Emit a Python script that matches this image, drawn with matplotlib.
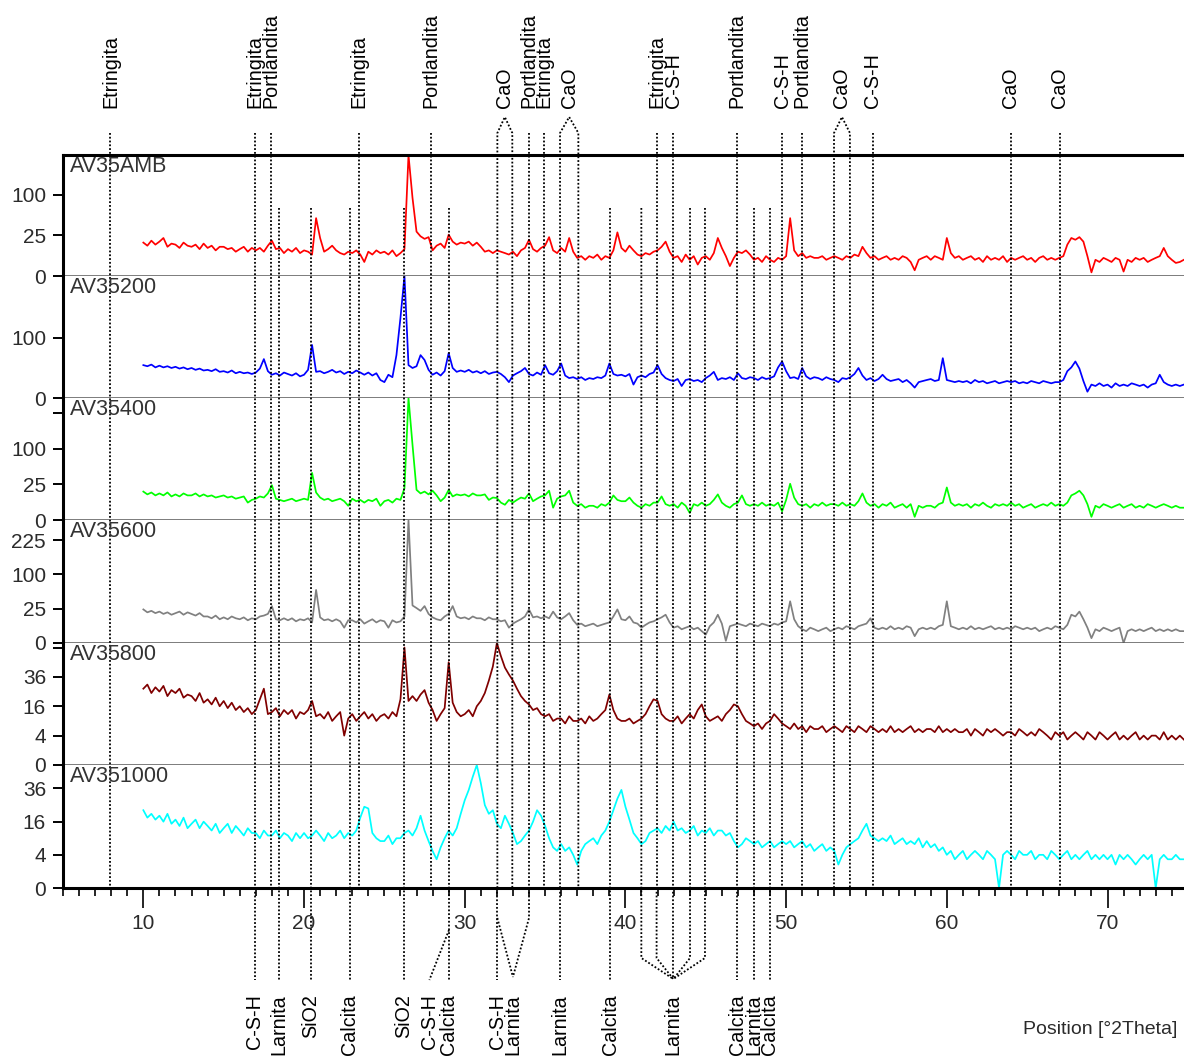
import numpy as np
import matplotlib
matplotlib.use("Agg")
import matplotlib.pyplot as plt
from matplotlib.ticker import MultipleLocator

plt.rcParams['font.family'] = ['Liberation Sans', 'DejaVu Sans']

# ---------------------------------------------------------------- data
two_theta = np.arange(10.0, 75.0, 0.25)  # 10.00 ... 74.75 deg 2theta

av35amb = [
    17, 14, 19, 15,  18, 22, 13, 16,  15, 12, 17, 14,  13, 15, 11, 16,   # 10-13
    12, 14, 10, 13,  13, 11, 12, 9,   11, 13, 9, 12,   10, 12, 9, 14,    # 14-17
    19, 11, 12, 8,   11, 9, 12, 8,    10, 9, 7, 51,    22, 9, 11, 14,    # 18-21
    10, 8, 7, 9,     8, 10, 7, 3,     9, 7, 10, 8,     9, 7, 10, 6,      # 22-25
    8, 11, 223, 93,  30, 24, 21, 23,  10, 14, 16, 12,  26, 18, 15, 17,   # 26-29
    16, 18, 14, 17,  13, 9, 10, 8,    10, 9, 8, 7,     9, 6, 10, 12,     # 30-33
    20, 11, 9, 12,   14, 23, 10, 8,   12, 9, 22, 9,    5, 6, 4, 6,       # 34-37
    5, 7, 4, 6,      5, 10, 29, 12,   9, 14, 10, 7,    6, 8, 7, 9,       # 38-41
    10, 13, 18, 9,   5, 6, 3, 7,      4, 6, 2, 5,      6, 4, 8, 22,      # 42-45
    12, 6, 1.5, 5,   9, 8, 10, 7,     4, 5, 3, 6,      4, 3, 5, 4,       # 46-49
    6, 51, 10, 6,    8, 5, 6, 5,      5, 6, 4, 5,      6, 5, 4, 6,       # 50-53
    5, 7, 6, 13,     8, 5, 6, 4,      5, 6, 4, 5,      4, 6, 5, 3,       # 54-57
    0.5, 4, 5, 6,    4, 6, 5, 4,      22, 8, 5, 6,     4, 5, 6, 4,       # 58-61
    5, 3, 6, 4,      5, 4, 6, 3,      5, 4, 5, 6,      4, 5, 3, 5,       # 62-65
    6, 4, 5, 4,      5, 6, 15, 22,    20, 23, 18, 6,   0.2, 4, 3, 5,     # 66-69
    4, 3, 5, 4,      0.3, 4, 3, 5,    4, 5, 3, 4,      5, 6, 12, 6,      # 70-73
    4, 2.6, 3, 4,                                                        # 74
]

av35200 = [
    30, 28, 31, 26,  29, 26, 28, 25,  27, 24, 26, 23,  25, 22, 24, 21,
    22, 20, 23, 19,  20, 18, 21, 17,  19, 17, 18, 16,  18, 24, 42, 20,
    15, 17, 14, 18,  16, 14, 17, 13,  15, 22, 78, 19,  20, 17, 19, 22,
    18, 20, 16, 19,  17, 21, 18, 15,  18, 14, 17, 9,   7, 15, 12, 51,
    178, 413, 30, 25, 28, 51, 40, 22, 15, 18, 14, 20,  56, 25, 19, 21,
    19, 22, 18, 20,  17, 20, 16, 18,  19, 16, 12, 7,   14, 17, 20, 25,
    16, 14, 18, 15,  30, 17, 15, 20,  33, 14, 11, 12,  10, 12, 9, 11,
    10, 12, 11, 14,  33, 16, 14, 15,  13, 16, 5, 12,   14, 12, 16, 18,
    30, 16, 11, 9,   8, 10, 4, 9,     10, 8, 9, 7,     11, 14, 19, 9,
    11, 10, 12, 9,   17, 11, 10, 12,  11, 9, 12, 10,   11, 13, 26, 37,
    20, 11, 12, 10,  25, 13, 10, 12,  11, 9, 12, 10,   9, 7, 11, 10,
    12, 16, 25, 14,  9, 11, 8, 10,    15, 10, 8, 9,    10, 7, 9, 6,
    3, 7, 8, 9,      10, 8, 9, 44,    9, 8, 7, 8,      7, 8, 6, 9,
    7, 8, 6, 7,      8, 6, 7, 8,      7, 8, 6, 7,      6, 8, 7, 6,
    8, 7, 6, 7,      7, 9, 20, 26,    37, 24, 8, 1.1,  5, 4, 6, 4,
    5, 3, 6, 4,      5, 4, 6, 5,      4, 5, 3, 5,      6, 15, 7, 5,
    4, 5, 4, 5,
]

av35400 = [
    16, 13, 15, 12,  14, 12, 15, 11,  13, 11, 14, 12,  12, 14, 11, 13,
    11, 12, 10, 11,  12, 10, 11, 9,   10, 11, 6, 8,    9, 11, 10, 14,
    24, 9, 8, 7,     8, 9, 7, 8,      9, 8, 44, 15,    10, 8, 9, 7,
    8, 9, 7, 4,      9, 7, 8, 6,      8, 7, 9, 4,      7, 8, 6, 9,
    8, 20, 295, 112, 18, 14, 16, 13,  17, 12, 7, 10,   18, 11, 13, 12,
    13, 11, 14, 12,  12, 13, 8, 10,   9.6, 6, 4.6, 8,  6, 8, 10, 9,
    14, 7, 9, 11,    12, 17, 3, 9,    11, 12, 17, 6,   4, 5, 3, 4,
    4, 3, 5, 4,      6, 12, 8, 7,     7, 10, 6, 4,     3, 5, 4, 6,
    6, 11, 5, 4,     5, 3, 6, 4,      1, 5, 4, 6,      4, 5, 8, 13,
    6, 4, 3, 5,      6, 12, 5, 4,     5, 4, 6, 4,      5, 4, 6, 1.5,
    8, 26, 10, 5,    4, 5, 3, 5,      4, 6, 4, 5,      5, 4, 6, 4,
    5, 4, 7, 14,     6, 4, 5, 3,      5, 4, 6, 3,      4, 5, 3, 5,
    0.2, 4, 3, 4,    4, 3, 5, 6,      21, 6, 4, 5,     4, 5, 3, 5,
    4, 6, 4, 3,      5, 4, 5, 4,      6, 4, 5, 3,      4, 5, 3, 4,
    5, 4, 6, 4,      5, 4, 6, 12,     14, 17, 12, 5,   0.2, 4, 3, 5,
    4, 3, 4, 5,      3, 4, 5, 3,      4, 3, 5, 4,      3, 4, 5, 4,
    3, 4, 3, 3,
]

av35600 = [
    24, 20, 22, 19,  21, 18, 20, 17,  19, 21, 17, 20,  18, 16, 19, 15,
    15, 13, 16, 12,  14, 12, 15, 13,  12, 14, 11, 13,  12, 15, 16, 18,
    29, 12, 11, 13,  11, 13, 10, 12,  11, 13, 9, 60,   14, 11, 12, 10,
    12, 10, 5, 11,   11, 9, 12, 8,    10, 12, 9, 11,   10, 5, 11, 9,
    10, 15, 322, 30, 26, 22, 29, 18,  14, 12, 11, 15,  18, 29, 15, 13,
    14, 12, 15, 13,  13, 11, 14, 12,  12, 10, 11, 5,   8, 10, 12, 15,
    24, 14, 15, 13,  15, 13, 21, 14,  12, 15, 19, 11,  7, 8, 6, 7,
    8, 6, 7, 8,      9, 15, 24, 12,   11, 15, 9, 8,    5, 7, 9, 10,
    12, 14, 17, 9,   5, 6, 4, 5,      6, 4, 5, 3,      1.5, 6, 9, 17,
    8, 0.1, 6, 7,    8, 7, 6, 8,      7, 6, 8, 7,      6, 8, 7, 9,
    10, 37, 12, 6,   4, 3, 5, 4,      3, 4, 5, 3,      4, 5, 4, 6,
    5, 4, 6, 7,      8, 13, 5, 4,     5, 4, 6, 4,      5, 4, 6, 5,
    1, 4, 5, 4,      5, 4, 6, 7,      37, 6, 5, 4,     5, 4, 6, 4,
    5, 4, 5, 6,      4, 5, 4, 5,      4, 6, 5, 4,      5, 4, 5, 3,
    4, 5, 4, 6,      5, 4, 7, 17,     15, 21, 12, 5,   0.5, 4, 3, 5,
    4, 3, 4, 5,      0, 3, 4, 3,      4, 3, 4, 5,      3, 4, 3, 4,
    3, 4, 3, 3,
]

av35800 = [
    27, 30, 24, 28,  25, 29, 22, 26,  24, 27, 21, 23,  22, 19, 24, 18,
    20, 17, 21, 16,  19, 15, 18, 14,  16, 13, 15, 12,  14, 20, 27, 12,
    13, 15, 11, 14,  12, 14, 10, 13,  12, 14, 19, 11,  12, 10, 13, 9,
    11, 13, 4, 10,   12, 9, 11, 13,   10, 12, 9, 11,   12, 10, 13, 11,
    20, 64, 19, 22,  19, 23, 26, 18,  14, 9, 12, 15,   49, 18, 13, 11,
    12, 14, 11, 16,  19, 24, 33, 45,  69, 55, 44, 38,  33, 27, 22, 19,
    17, 14, 15, 12,  11, 12, 9, 10,   10, 8, 11, 9,    9, 10, 8, 11,
    9, 10, 12, 14,   23, 14, 10, 9,   9, 10, 8, 9,     10, 12, 16, 20,
    19, 12, 10, 9,   9, 11, 8, 10,    12, 10, 14, 17,  11, 9, 10, 11,
    9, 12, 14, 17,   16, 12, 9, 8,    7, 8, 6, 8,      9, 12, 10, 8,
    7, 6, 8, 6,      7, 5, 7, 6,      6, 7, 5, 6,      7, 6, 5, 7,
    6, 5, 7, 6,      5, 7, 6, 5,      6, 5, 7, 5,      6, 5, 6, 7,
    5, 6, 5, 6,      6, 5, 7, 5,      6, 5, 6, 5,      5, 6, 4, 6,
    5, 4, 6, 5,      6, 5, 4, 5,      5, 4, 6, 5,      4, 5, 4, 6,
    5, 4, 3, 5,      4, 5, 3, 4,      5, 4, 3, 5,      4, 3, 5, 4,
    3, 4, 5, 3,      4, 3, 4, 5,      3, 4, 3, 4,      4, 3, 5, 3,
    4, 3, 4, 3,
]

av351000 = [
    22, 18, 20, 17,  19, 16, 20, 15,  17, 14, 18, 13,  15, 17, 13, 16,
    14, 12, 15, 11,  13, 15, 11, 14,  12, 10, 13, 11,  11, 9, 12, 10,
    10, 12, 9, 11,   10, 8, 11, 9,    11, 9, 10, 12,   10, 8, 11, 9,
    10, 12, 9, 11,   10, 12, 18, 24,  23, 11, 9, 8,    8, 10, 7, 9,
    9, 11, 12, 10,   13, 19, 12, 8,   5, 3, 6, 9,      12, 10, 13, 20,
    28, 35, 45, 55,  40, 25, 20, 22,  15, 13, 19, 15,  11, 7, 8, 10,
    12, 16, 22, 19,  14, 9, 6, 5,     7, 5, 6, 4,      2, 5, 7, 8,
    9, 7, 10, 12,    16, 22, 29, 35,  24, 17, 11, 9,   7, 8, 11, 12,
    13, 11, 14, 12,  16, 12, 13, 11,  12, 14, 10, 12,  11, 13, 10, 12,
    12, 10, 11, 8,   6, 7, 9, 8,      7, 8, 6, 7,      8, 6, 7, 8,
    7, 8, 6, 7,      8, 6, 7, 5,      6, 7, 5, 6,      5, 2, 4, 6,
    7, 8, 9, 12,     15, 10, 9, 8,    9, 8, 10, 7,     8, 9, 7, 8,
    7, 9, 6, 8,      6, 7, 5, 6,      4, 5, 3, 4,      5, 3, 4, 5,
    4, 3, 5, 4,      3, 0, 4, 5,      4, 3, 5, 4,      4, 5, 3, 4,
    4, 3, 5, 4,      3, 4, 5, 3,      4, 3, 4, 5,      3, 4, 3, 4,
    3, 4, 2, 4,      3, 4, 3, 2,      3, 4, 3, 4,      0, 3, 4, 3,
    3, 4, 3, 3,
]

samples = ["AV35AMB", "AV35200", "AV35400", "AV35600", "AV35800", "AV351000"]
series = [av35amb, av35200, av35400, av35600, av35800, av351000]
line_colors = ["#ff0000", "#0000ff", "#00ff00", "#808080", "#800000", "#00ffff"]
ytick_values = [[0, 25, 100], [0, 100], [0, 25, 100, 225],
                [0, 25, 100, 225], [0, 4, 16, 36, 64], [0, 4, 16, 36]]
ytick_labels = [["0", "25", "100"], ["0", "100"], ["0", "25", "100", ""],
                ["0", "25", "100", "225"], ["0", "4", "16", "36", ""],
                ["0", "4", "16", "36"]]

# reference lines labelled above the stack
top_pos = [7.95, 16.94, 17.92, 23.41, 27.88, 34.0, 34.93, 41.94, 42.98,
           46.96, 49.76, 51.0, 55.4, 63.97, 67.04]
top_names = ["Etringita", "Etringita", "Portlandita", "Etringita",
             "Portlandita", "Portlandita", "Etringita", "Etringita", "C-S-H",
             "Portlandita", "C-S-H", "Portlandita", "C-S-H", "CaO", "CaO"]
cao_pairs = [(32.03, 32.96), (35.93, 37.07), (52.98, 53.97)]

# reference lines labelled below the axis
bottom_pos = [16.94, 18.43, 20.41, 22.83, 26.22, 29.02, 32.03, 35.93, 39.04,
              46.96, 48.0, 48.97]
bottom_names = ["C-S-H", "Larnita", "SiO2", "Calcita", "SiO2", "Calcita",
                "C-S-H", "Larnita", "Calcita", "Calcita", "Larnita", "Calcita"]
csh_shifted = (29.02, 27.8)          # line position, label position
larnita_pair = [32.03, 34.0]
larnita_pair_label = 33.0
larnita_group = [40.99, 41.94, 42.98, 44.02, 44.95]
larnita_group_label = 42.98

# ---------------------------------------------------------------- layout
W, H = 1184, 1057
XMIN, XMAX = 5.0, 74.76
L, R = 63 / W, 1.0
panel_tops = [155, 276, 398, 520, 643, 765]
panel_bottoms = [276, 398, 520, 643, 765, 888]


def fy(py):
    return 1 - py / H


def _fwd(v):
    return np.sqrt(np.clip(v, 0, None))


def _inv(v):
    return np.square(v)


fig = plt.figure(figsize=(W / 100, H / 100), dpi=100)

for i, (name, vals, col) in enumerate(zip(samples, series, line_colors)):
    t, b = panel_tops[i], panel_bottoms[i]
    ax = fig.add_axes([L, fy(b), R - L, (b - t) / H])
    ax.plot(two_theta, vals, color=col, lw=1.25)
    ax.set_xlim(XMIN, XMAX)
    ax.set_yscale('function', functions=(_fwd, _inv))
    ax.set_ylim(0, max(vals))
    ax.set_yticks(ytick_values[i])
    ax.set_yticklabels(ytick_labels[i])
    ax.tick_params(axis='y', direction='out', length=7.2, width=1.4, pad=5,
                   labelsize=15, labelcolor='#2b2b2b', color='black')
    ax.spines['right'].set_visible(False)
    ax.spines['left'].set_color('black')
    ax.spines['left'].set_linewidth(2.2)
    if i == 0:
        ax.spines['top'].set_color('black')
        ax.spines['top'].set_linewidth(2.2)
    else:
        ax.spines['top'].set_visible(False)
    if i == len(samples) - 1:
        ax.spines['bottom'].set_color('black')
        ax.spines['bottom'].set_linewidth(2.2)
        ax.xaxis.set_major_locator(MultipleLocator(10))
        ax.xaxis.set_minor_locator(MultipleLocator(1))
        ax.tick_params(axis='x', which='major', direction='out', length=14.4,
                       width=1.2, labelsize=15, labelcolor='#2b2b2b', pad=4)
        ax.tick_params(axis='x', which='minor', direction='out', length=5.8,
                       width=1.2)
    else:
        ax.spines['bottom'].set_color('#555555')
        ax.spines['bottom'].set_linewidth(1.8)
        ax.tick_params(axis='x', which='both', bottom=False, labelbottom=False)
    fig.text(70 / W, fy(t + 1), name, ha='left', va='top', fontsize=15.5,
             color='#333333')

fig.text(1177 / W, fy(1030), "Position [°2Theta]", ha='right', va='center',
         fontsize=14, color='#2b2b2b')

# ---------------------------------------------------------------- overlay with reference lines
ov = fig.add_axes([L, 0, R - L, 1])
ov.set_xlim(XMIN, XMAX)
ov.set_ylim(H, 0)
ov.axis('off')
ov.patch.set_alpha(0)

dot = dict(color='black', lw=1.3, linestyle=(0, (1, 1.1)), solid_capstyle='butt')
lab = dict(rotation=90, fontsize=14.2, color='black', ha='center')

LINE_TOP, TOP_LABEL_Y = 133, 108
AXIS_BOTTOM, LINE_END, BOTTOM_LABEL_Y = 888, 980, 994
INNER_START = 208

top_lines = list(top_pos) + [p for pair in cao_pairs for p in pair]


def is_top_line(x):
    return any(abs(x - p) < 0.02 for p in top_lines)


for x, name in zip(top_pos, top_names):
    ov.plot([x, x], [LINE_TOP, AXIS_BOTTOM], **dot)
    ov.text(x, TOP_LABEL_Y, name, va='bottom', **lab)

for x1, x2 in cao_pairs:
    mid = (x1 + x2) / 2
    ov.plot([x1, x1, mid, x2, x2], [AXIS_BOTTOM, LINE_TOP, 117, LINE_TOP, AXIS_BOTTOM], **dot)
    ov.text(mid, TOP_LABEL_Y, "CaO", va='bottom', **lab)

for x, name in zip(bottom_pos, bottom_names):
    start = AXIS_BOTTOM if is_top_line(x) else INNER_START
    ov.plot([x, x], [start, LINE_END], **dot)
    ov.text(x, BOTTOM_LABEL_Y, name, va='top', **lab)

# C-S-H label moved to the left of its line
xl, xt = csh_shifted
ov.plot([xl, xt], [930, LINE_END], **dot)
ov.text(xt, BOTTOM_LABEL_Y, "C-S-H", va='top', **lab)

# Larnita pair joined below the axis
for x in larnita_pair:
    if x in bottom_pos:
        ov.plot([x, larnita_pair_label], [918, 977], **dot)
    else:
        start = AXIS_BOTTOM if is_top_line(x) else INNER_START
        ov.plot([x, x, larnita_pair_label], [start, 918, 977], **dot)
ov.text(larnita_pair_label, BOTTOM_LABEL_Y, "Larnita", va='top', **lab)

# Larnita group joined below the axis
for x in larnita_group:
    start = AXIS_BOTTOM if is_top_line(x) else INNER_START
    if abs(x - larnita_group_label) < 1e-6:
        ov.plot([x, x], [start, 979], **dot)
    else:
        ov.plot([x, x, larnita_group_label], [start, 958, 979], **dot)
ov.text(larnita_group_label, BOTTOM_LABEL_Y, "Larnita", va='top', **lab)

fig.savefig("out.png", dpi=100)
